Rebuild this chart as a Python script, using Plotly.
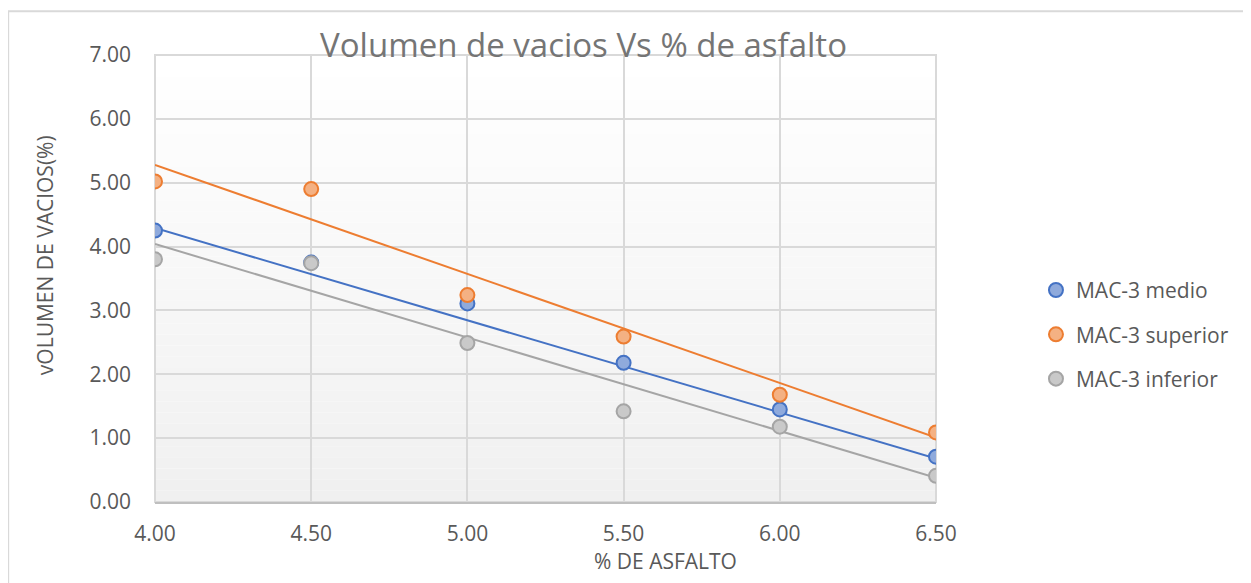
import plotly.graph_objects as go

# % de asfalto
asfalto = [4.0, 4.5, 5.0, 5.5, 6.0, 6.5]

# volumen de vacios (%) per series
medio = [4.25, 3.75, 3.11, 2.18, 1.45, 0.71]
superior = [5.02, 4.90, 3.24, 2.59, 1.68, 1.09]
inferior = [3.80, 3.74, 2.49, 1.42, 1.18, 0.41]

# linear trendline end points (at 4.00 and 6.50)
trend_x = [4.0, 6.5]
trend_medio = [4.29, 0.68]
trend_superior = [5.28, 1.01]
trend_inferior = [4.04, 0.38]

series = [
    ("MAC-3 medio", medio, trend_medio, "#4472C4", "#8FAADC"),
    ("MAC-3 superior", superior, trend_superior, "#ED7D31", "#F4B183"),
    ("MAC-3 inferior", inferior, trend_inferior, "#A5A5A5", "#C9C9C9"),
]

FONT = "Open Sans"
TXT = "#595959"

fig = go.Figure()

# trendlines first so the markers sit on top
for name, vals, trend, line_col, fill_col in series:
    fig.add_trace(go.Scatter(
        x=trend_x, y=trend, mode="lines",
        line=dict(color=line_col, width=2),
        showlegend=False, hoverinfo="skip",
    ))

for name, vals, trend, line_col, fill_col in series:
    fig.add_trace(go.Scatter(
        x=asfalto, y=vals, mode="markers", name=name, legendgroup=name,
        marker=dict(size=14, color=fill_col, line=dict(color=line_col, width=2)),
    ))

# light vertical gradient for the plot area
n_bands = 40
for i in range(n_bands):
    t = i / (n_bands - 1)
    g = int(round(255 - t * 15))
    fig.add_shape(
        type="rect", xref="x domain", yref="y domain",
        x0=0, x1=1, y0=1 - (i + 1) / n_bands, y1=1 - i / n_bands,
        fillcolor=f"rgb({g},{g},{g})", line=dict(width=0), layer="below",
    )

# outer chart border
fig.add_shape(
    type="rect", xref="paper", yref="paper",
    x0=-0.188, x1=1.42, y0=-0.3, y1=1.098,
    line=dict(color="#D9D9D9", width=2), fillcolor="rgba(0,0,0,0)",
)

# plot area frame
fig.add_shape(
    type="rect", xref="x domain", yref="y domain", x0=0, x1=1, y0=0, y1=1,
    line=dict(color="#D9D9D9", width=2), fillcolor="rgba(0,0,0,0)", layer="below",
)

# axis titles
fig.add_annotation(
    text="vOLUMEN DE VACIOS(%)", xref="paper", yref="paper",
    x=-0.141, y=0.552, textangle=-90, showarrow=False,
    xanchor="center", yanchor="middle",
    font=dict(family=FONT, size=21, color=TXT),
)
fig.add_annotation(
    text="% DE ASFALTO", xref="paper", yref="paper",
    x=0.654, y=-0.132, showarrow=False,
    xanchor="center", yanchor="middle",
    font=dict(family=FONT, size=21, color=TXT),
)

fig.update_layout(
    width=1243, height=575,
    margin=dict(l=147, r=315, t=47, b=81),
    paper_bgcolor="white",
    plot_bgcolor="rgba(0,0,0,0)",
    font=dict(family=FONT, color=TXT, size=16),
    title=dict(
        text="Volumen de vacios Vs % de asfalto",
        font=dict(family=FONT, size=33, color="#757575"),
        x=0.463, xanchor="center", y=0.935, yanchor="middle",
    ),
    xaxis=dict(
        range=[4.0, 6.5], dtick=0.5, tickformat=".2f",
        showgrid=True, gridcolor="#D9D9D9", gridwidth=2,
        showline=True, linecolor="#BFBFBF", linewidth=2, mirror=False,
        zeroline=False, ticks="", ticklen=0, ticklabelstandoff=12,
        tickfont=dict(size=21, color=TXT),
    ),
    yaxis=dict(
        range=[0, 7], dtick=1, tickformat=".2f",
        showgrid=True, gridcolor="#D9D9D9", gridwidth=2,
        showline=False, zeroline=False, ticks="", ticklabelstandoff=23,
        tickfont=dict(size=21, color=TXT),
    ),
    legend=dict(
        x=1.128, xanchor="left", y=0.375, yanchor="middle",
        font=dict(size=21, color=TXT), tracegroupgap=14,
        bgcolor="rgba(0,0,0,0)", itemsizing="trace",
    ),
)

fig.write_html("out.html")
